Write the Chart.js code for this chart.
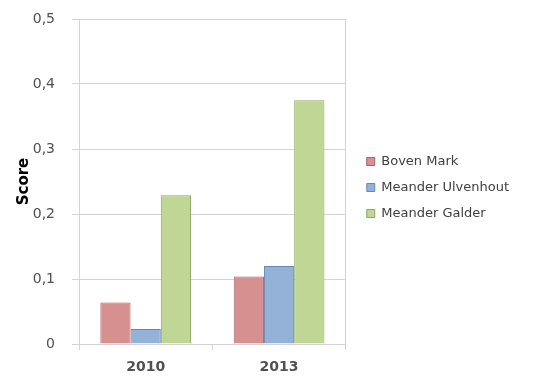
<!DOCTYPE html>
<html>
<head>
<meta charset="utf-8">
<script src="https://cdn.jsdelivr.net/npm/chart.js@4/dist/chart.umd.min.js"></script>
<style>
  html, body { margin: 0; padding: 0; background: #fff; }
  #wrap { width: 548px; height: 376px; }
</style>
</head>
<body>
<div id="wrap"><canvas id="chart-score" width="548" height="376"></canvas></div>
<script>
// categorieën en scores per locatie
const JAREN = ['2010', '2013'];
const BOVEN_MARK = [0.064, 0.104];
const MEANDER_ULVENHOUT = [0.023, 0.12];
const MEANDER_GALDER = [0.229, 0.375];
const Y_TICKS = [0, 0.1, 0.2, 0.3, 0.4, 0.5];

// kleuren, Excel-achtig
const COR = {
    red: '#d69090', redBorder: '#a86464',
    blue: '#94b1d8', blueBorder: '#6a86b0',
    green: '#c0d695', greenBorder: '#8ea862',
    text: '#505050',
    grid: '#d4d4d4',
};

const FONT = 'DejaVu Sans';

// legenda iets hoger zetten dan Chart.js hem centreert
const legendaOmhoog = {
    id: 'legendaOmhoog',
    afterLayout(chart) {
        chart.legend.top -= 10;
        chart.legend.bottom -= 10;
    }
};

const ctx = document.getElementById('chart-score');

new Chart(ctx, {
    type: 'bar',
    data: {
        labels: JAREN,
        datasets: [
            { label: 'Boven Mark', data: BOVEN_MARK, backgroundColor: COR.red, borderColor: COR.redBorder, borderWidth: 1 },
            { label: 'Meander Ulvenhout', data: MEANDER_ULVENHOUT, backgroundColor: COR.blue, borderColor: COR.blueBorder, borderWidth: 1 },
            { label: 'Meander Galder', data: MEANDER_GALDER, backgroundColor: COR.green, borderColor: COR.greenBorder, borderWidth: 1 },
        ]
    },
    plugins: [legendaOmhoog],
    options: {
        responsive: false,
        animation: false,
        layout: { padding: { top: 19, right: 29, bottom: 0, left: 0 } },
        datasets: { bar: { barPercentage: 1, categoryPercentage: 0.68 } },
        plugins: {
            legend: {
                position: 'right',
                maxWidth: 260,
                labels: {
                    font: { family: FONT, size: 13 },
                    color: '#404040',
                    boxWidth: 8,
                    boxHeight: 8,
                    padding: 13,
                }
            },
            tooltip: { enabled: false }
        },
        scales: {
            x: {
                afterFit: s => { s.height = 32; },
                grid: { drawOnChartArea: false, drawTicks: true, tickLength: 6, color: COR.grid, offset: true },
                border: { color: COR.grid },
                ticks: { font: { family: FONT, size: 14, weight: 'bold' }, color: COR.text, padding: 9 }
            },
            y: {
                min: 0,
                max: 0.5,
                afterBuildTicks: axis => { axis.ticks = Y_TICKS.map(v => ({ value: v })); },
                afterFit: s => { s.width = 79; s.paddingTop = 0; s.paddingBottom = 0; },
                grid: { color: COR.grid, tickLength: 7 },
                border: { color: COR.grid },
                title: { display: true, text: 'Score', font: { family: FONT, size: 15, weight: 'bold' }, color: '#000', padding: { top: 15, bottom: 0 } },
                ticks: {
                    font: { family: FONT, size: 14 },
                    color: COR.text,
                    padding: 17,
                    callback: v => v === 0 ? '0' : v.toFixed(1).replace('.', ',')
                }
            },
            yRand: {
                position: 'right',
                min: 0,
                max: 0.5,
                afterFit: s => { s.width = 8; s.paddingTop = 0; s.paddingBottom = 0; },
                grid: { display: false, drawTicks: false },
                border: { display: true, color: COR.grid },
                ticks: { display: false }
            }
        }
    }
});
</script>
</body>
</html>
